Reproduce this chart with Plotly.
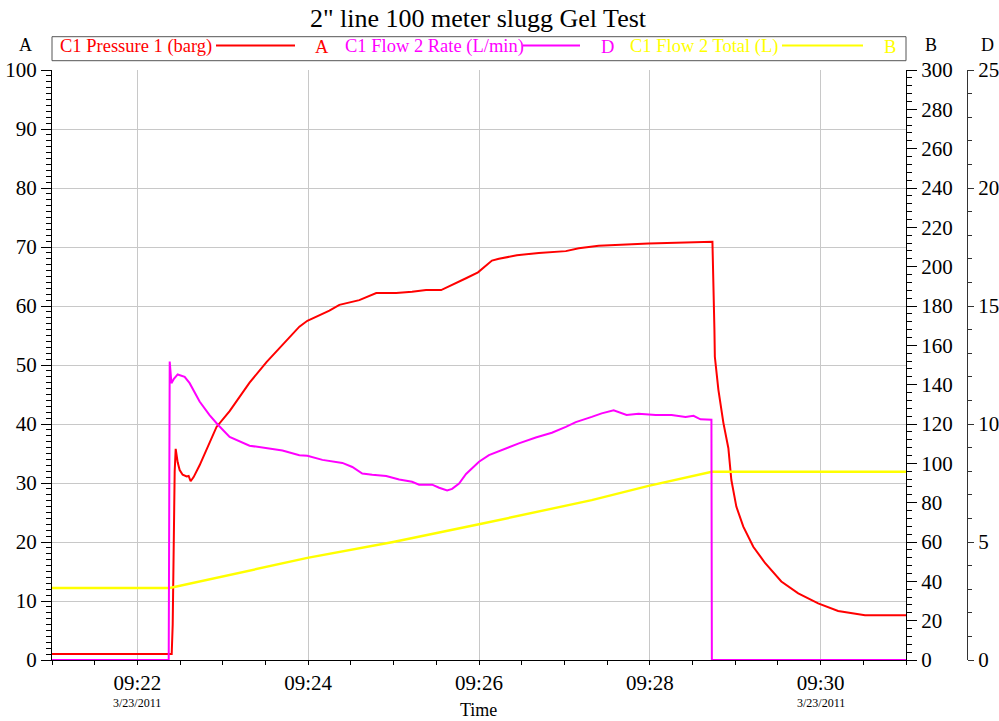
import plotly.graph_objects as go

DAY = "2011-03-23 "

# C1 Pressure 1 (barg) -- left axis A
pressure_time = [
    "09:21:00", "09:22:21.3", "09:22:24.1", "09:22:24.8", "09:22:25.5", "09:22:26.2",
    "09:22:26.9", "09:22:28.3", "09:22:29.7", "09:22:31.8", "09:22:34.6", "09:22:36.0",
    "09:22:37.4", "09:22:39.5", "09:22:43.7", "09:22:55.6", "09:23:04.8", "09:23:18.8",
    "09:23:30.7", "09:23:44.7", "09:23:53.8", "09:23:59.4", "09:24:14.9", "09:24:21.9",
    "09:24:35.9", "09:24:47.8", "09:25:01.8", "09:25:13.0", "09:25:22.8", "09:25:33.4",
    "09:25:39.0", "09:25:50.9", "09:25:59.3", "09:26:09.1", "09:26:14.0", "09:26:26.6",
    "09:26:42.0", "09:27:01.0", "09:27:10.1", "09:27:24.1", "09:27:59.1", "09:28:41.2",
    "09:28:44.0", "09:28:45.4", "09:28:45.7", "09:28:48.2", "09:28:51.7", "09:28:55.2",
    "09:28:57.3", "09:29:00.8", "09:29:05.7", "09:29:12.7", "09:29:21.1", "09:29:32.4",
    "09:29:44.3", "09:29:58.3", "09:30:12.3", "09:30:31.2", "09:31:00",
]
pressure_barg = [
    1.0, 1.0, 1.0, 6.0, 22.0, 32.0,
    35.8, 33.5, 32.2, 31.4, 31.1, 31.2,
    30.3, 31.0, 33.0, 39.5, 42.2, 47.0,
    50.5, 54.2, 56.5, 57.5, 59.2, 60.2,
    61.0, 62.2, 62.2, 62.4, 62.7, 62.7,
    63.3, 64.7, 65.7, 67.7, 68.0, 68.6,
    69.0, 69.3, 69.8, 70.2, 70.6, 71.0,
    70.9, 56.0, 51.4, 45.8, 40.2, 35.9,
    30.5, 26.0, 22.6, 19.2, 16.4, 13.3,
    11.3, 9.6, 8.3, 7.6, 7.6,
]

# C1 Flow 2 Rate (L/min) -- axis D
rate_time = [
    "09:21:00", "09:22:22.0", "09:22:22.7", "09:22:23.9", "09:22:25.5", "09:22:28.3",
    "09:22:33.2", "09:22:36.7", "09:22:43.7", "09:22:50.7", "09:22:56.4", "09:23:04.8",
    "09:23:18.8", "09:23:30.7", "09:23:41.9", "09:23:53.8", "09:23:59.4", "09:24:10.0",
    "09:24:24.0", "09:24:31.0", "09:24:38.0", "09:24:45.0", "09:24:54.8", "09:25:03.9",
    "09:25:13.0", "09:25:17.9", "09:25:27.1", "09:25:32.0", "09:25:37.6", "09:25:41.1",
    "09:25:46.0", "09:25:50.9", "09:26:00.0", "09:26:07.0", "09:26:18.9", "09:26:28.0",
    "09:26:39.9", "09:26:51.2", "09:27:01.0", "09:27:08.0", "09:27:19.2", "09:27:26.2",
    "09:27:34.6", "09:27:39.5", "09:27:43.7", "09:27:52.1", "09:28:04.1", "09:28:15.3",
    "09:28:25.1", "09:28:30.7", "09:28:35.6", "09:28:43.3", "09:28:43.6", "09:31:00",
]
rate_lpm = [
    0.0, 0.0, 12.65, 11.73, 11.9, 12.1,
    12.0, 11.73, 10.95, 10.38, 9.98, 9.45,
    9.08, 8.98, 8.88, 8.68, 8.65, 8.48,
    8.35, 8.18, 7.9, 7.85, 7.8, 7.65,
    7.55, 7.43, 7.43, 7.3, 7.18, 7.25,
    7.48, 7.88, 8.4, 8.68, 8.98, 9.18,
    9.43, 9.63, 9.88, 10.08, 10.3, 10.45,
    10.58, 10.48, 10.38, 10.43, 10.38, 10.38,
    10.3, 10.35, 10.2, 10.18, 0.0, 0.0,
]

# C1 Flow 2 Total (L) -- axis B
total_time = [
    "09:21:00", "09:22:22.7", "09:23:59.4", "09:24:59.7", "09:26:00.0",
    "09:27:19.2", "09:27:59.1", "09:28:43.6", "09:31:00",
]
total_l = [36.6, 36.6, 51.9, 60.0, 69.0, 81.3, 88.5, 95.7, 95.7]

x_ticks = ["09:22", "09:24", "09:26", "09:28", "09:30"]
date_label = "3/23/2011"
date_label_ticks = ["09:22", "09:30"]

RED, MAGENTA, YELLOW = "#ff0000", "#ff00ff", "#ffff00"
SERIF = "Liberation Serif"
GRID = "#c8c8c8"

W, H = 999, 721
ML, MR, MT, MB = 52, 20, 70, 61
PW, PH = W - ML - MR, H - MT - MB


def px(x):
    return (x - ML) / PW


def py(y):
    return (H - MB - y) / PH


def stamp(ts):
    return [DAY + t for t in ts]


fig = go.Figure()
fig.add_trace(go.Scatter(x=stamp(pressure_time), y=pressure_barg, mode="lines",
                         line=dict(color=RED, width=2), yaxis="y",
                         name="C1 Pressure 1 (barg)"))
fig.add_trace(go.Scatter(x=stamp(total_time), y=total_l, mode="lines",
                         line=dict(color=YELLOW, width=2.4), yaxis="y2",
                         name="C1 Flow 2 Total (L)"))
fig.add_trace(go.Scatter(x=stamp(rate_time), y=rate_lpm, mode="lines",
                         line=dict(color=MAGENTA, width=2), yaxis="y3",
                         name="C1 Flow 2 Rate (L/min)"))

tick_font = dict(family=SERIF, size=21, color="black")

fig.update_layout(
    width=W, height=H,
    margin=dict(l=ML, r=MR, t=MT, b=MB, autoexpand=False),
    paper_bgcolor="white", plot_bgcolor="white",
    showlegend=False,
    font=dict(family=SERIF, color="black"),
    title=dict(text='2" line 100 meter slugg Gel Test', x=px(478), xref="paper",
               xanchor="center", y=1 - 18 / H, yref="container", yanchor="middle",
               font=dict(family=SERIF, size=26, color="black")),
    xaxis=dict(
        type="date", domain=[0, px(906)], automargin=False,
        range=[DAY + "09:21:00", DAY + "09:31:00"],
        tickmode="array", tickvals=stamp(x_ticks), ticktext=x_ticks,
        ticks="outside", ticklen=4, tickcolor="black", tickfont=tick_font,
        showgrid=True, gridcolor=GRID, gridwidth=1,
        showline=True, linecolor="black", linewidth=1, zeroline=False,
        minor=dict(dtick=30000, tick0=DAY + "09:21:00",
                   ticks="outside", ticklen=4, tickcolor="black", showgrid=False),
    ),
    yaxis=dict(
        range=[0, 100], tickmode="linear", tick0=0, dtick=10, automargin=False,
        ticks="outside", ticklen=10, tickcolor="black", tickfont=tick_font,
        showgrid=True, gridcolor=GRID, gridwidth=1,
        showline=True, linecolor="black", linewidth=1, zeroline=False,
        minor=dict(dtick=1, ticks="outside",
                   ticklen=5, tickcolor="black", showgrid=False),
    ),
    yaxis2=dict(
        overlaying="y", side="right", anchor="x", automargin=False,
        range=[0, 300], tickmode="linear", tick0=0, dtick=20,
        ticks="outside", ticklen=10, tickcolor="black", tickfont=tick_font,
        showgrid=False, showline=True, linecolor="black", linewidth=1, zeroline=False,
        minor=dict(dtick=4, ticks="outside",
                   ticklen=5, tickcolor="black", showgrid=False),
    ),
    yaxis3=dict(
        overlaying="y", side="right", anchor="free", position=px(967), automargin=False,
        range=[0, 25], tickmode="linear", tick0=0, dtick=5,
        ticks="outside", ticklen=6, tickcolor="#333333", tickfont=tick_font,
        showgrid=False, showline=True, linecolor="#333333", linewidth=1, zeroline=False,
        minor=dict(dtick=1, ticks="outside",
                   ticklen=4, tickcolor="#333333", showgrid=False),
    ),
)

annotations = []


def label(text, x, y, size=18, color="black", xanchor="center", xref="paper"):
    annotations.append(dict(text=text, x=x, y=py(y), xref=xref, yref="paper",
                            xanchor=xanchor, yanchor="middle", showarrow=False,
                            font=dict(family=SERIF, size=size, color=color)))


# axis letters
label("A", px(25), 45)
label("B", px(931), 45)
label("D", px(987), 45)
label("Time", px(478), 710)
for t in date_label_ticks:
    label(date_label, DAY + t, 703, size=12, xref="x")

# legend strip
shapes = [dict(type="rect", xref="paper", yref="paper", x0=px(52), x1=px(906),
               y0=py(60.7), y1=py(36.7), line=dict(color="#555555", width=1))]
legend_items = [
    ("C1 Pressure 1 (barg)", RED, 58, (216, 295), "A", 322),
    ("C1 Flow 2 Rate (L/min)", MAGENTA, 343, (523, 580), "D", 607),
    ("C1 Flow 2 Total (L)", YELLOW, 628, (782, 863), "B", 890),
]
for name, color, tx, (l0, l1), axis_letter, ax in legend_items:
    label(name, px(tx), 46.5, size=18.5, color=color, xanchor="left")
    label(axis_letter, px(ax), 46.5, size=18.5, color=color)
    shapes.append(dict(type="line", xref="paper", yref="paper", x0=px(l0), x1=px(l1),
                       y0=py(45.5), y1=py(45.5), line=dict(color=color, width=2)))

fig.update_layout(annotations=annotations, shapes=shapes)

fig.write_html("out.html")
